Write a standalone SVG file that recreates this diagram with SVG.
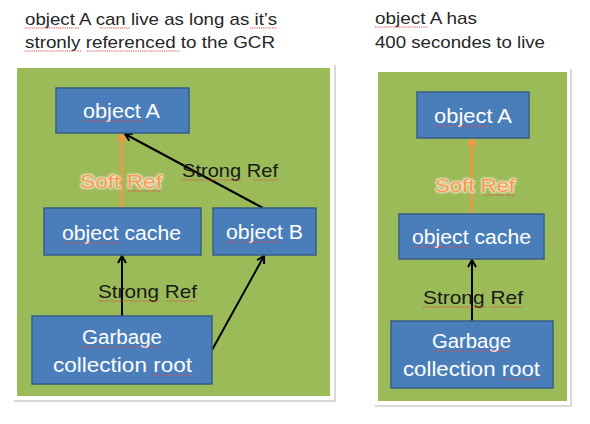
<svg xmlns="http://www.w3.org/2000/svg" width="590" height="424" viewBox="0 0 590 424">
<defs>
<style>
.t{font-family:"Liberation Sans",Arial,sans-serif;}
.title{font-size:17px;fill:#262626;}
.node rect{fill:#4A7EBB;stroke:#385D8A;stroke-width:1.5;}
.node text{font-size:20px;fill:#FFFFFF;text-anchor:middle;}
.lbl{font-size:19px;fill:#1a1a1a;text-anchor:middle;}
.soft{font-size:19px;fill:#F79646;text-anchor:middle;filter:url(#glow);}
.panel{fill:#FFFFFF;}
.shadow{fill:#D9D9D9;}
.green{fill:#9BBB59;}
.blk{stroke:#000;stroke-width:2;fill:none;}
.org{stroke:#F79646;stroke-width:2.5;fill:none;}
.sq{stroke:#E04848;stroke-width:1;stroke-dasharray:1.2 1;fill:none;}
</style>
<filter id="glow" x="-20%" y="-40%" width="140%" height="180%">
<feMorphology in="SourceAlpha" operator="dilate" radius="1.3" result="d"/>
<feGaussianBlur in="d" stdDeviation="1" result="b"/>
<feFlood flood-color="#FDE3CC"/>
<feComposite in2="b" operator="in" result="g"/>
<feMerge><feMergeNode in="g"/><feMergeNode in="SourceGraphic"/></feMerge>
</filter>
<marker id="ab" viewBox="0 0 10 10" refX="8.5" refY="5" markerWidth="10" markerHeight="10" orient="auto" markerUnits="userSpaceOnUse">
<path d="M1.5,1 L8.5,5 L1.5,9" fill="none" stroke="#000" stroke-width="2"/>
</marker>
<marker id="ao" viewBox="0 0 10 10" refX="8.5" refY="5" markerWidth="10" markerHeight="10" orient="auto" markerUnits="userSpaceOnUse">
<path d="M1.5,1 L8.5,5 L1.5,9" fill="none" stroke="#F79646" stroke-width="2.2"/>
</marker>
</defs>
<rect width="590" height="424" fill="#FFFFFF"/>

<g id="titles" class="t">
<text class="title" x="25" y="25" textLength="252" lengthAdjust="spacingAndGlyphs">object A can live as long as it’s</text>
<text class="title" x="25" y="48" textLength="250" lengthAdjust="spacingAndGlyphs">stronly referenced to the GCR</text>
<text class="title" x="375" y="24" textLength="102" lengthAdjust="spacingAndGlyphs">object A has</text>
<text class="title" x="375" y="48" textLength="170" lengthAdjust="spacingAndGlyphs">400 secondes to live</text>
</g>

<g id="panels">
<rect class="shadow" x="14" y="65" width="322" height="337"/>
<rect class="panel" x="13" y="64" width="321" height="336"/>
<rect class="green" x="17" y="68" width="313" height="328"/>
<rect class="shadow" x="375" y="69" width="197" height="338"/>
<rect class="panel" x="374" y="68" width="196" height="337"/>
<rect class="green" x="378" y="72" width="189" height="329"/>
</g>

<g id="connectors">
<line class="org" x1="122" y1="208" x2="122" y2="134" marker-end="url(#ao)"/>
<line class="blk" x1="263" y1="208" x2="125" y2="134" marker-end="url(#ab)"/>
<line class="blk" x1="122" y1="316" x2="122" y2="256" marker-end="url(#ab)"/>
<line class="blk" x1="212" y1="350" x2="264" y2="256" marker-end="url(#ab)"/>
<line class="org" x1="472" y1="214" x2="472" y2="139" marker-end="url(#ao)"/>
<line class="blk" x1="472" y1="321" x2="472" y2="260" marker-end="url(#ab)"/>
</g>

<g id="labels" class="t">
<text class="soft" x="121" y="188" textLength="82" lengthAdjust="spacingAndGlyphs">Soft Ref</text>
<text class="lbl" x="230" y="177" textLength="96" lengthAdjust="spacingAndGlyphs">Strong Ref</text>
<text class="lbl" x="147.5" y="298" textLength="99" lengthAdjust="spacingAndGlyphs">Strong Ref</text>
<text class="soft" x="475" y="192" textLength="80" lengthAdjust="spacingAndGlyphs">Soft Ref</text>
<text class="lbl" x="473" y="304" textLength="100" lengthAdjust="spacingAndGlyphs">Strong Ref</text>
</g>

<g id="left-objectA" class="node t">
<rect x="56" y="88" width="133" height="45"/>
<text x="121.5" y="118" textLength="77" lengthAdjust="spacingAndGlyphs">object A</text>
</g>
<g id="left-objectCache" class="node t">
<rect x="44" y="208" width="157" height="47"/>
<text x="121.5" y="240" textLength="119" lengthAdjust="spacingAndGlyphs">object cache</text>
</g>
<g id="left-objectB" class="node t">
<rect x="213" y="208" width="103" height="47"/>
<text x="264.5" y="239" textLength="77" lengthAdjust="spacingAndGlyphs">object B</text>
</g>
<g id="left-gcr" class="node t">
<rect x="32" y="316" width="180" height="68"/>
<text x="122" y="344" textLength="80" lengthAdjust="spacingAndGlyphs">Garbage</text>
<text x="122.5" y="372" textLength="139" lengthAdjust="spacingAndGlyphs">collection root</text>
</g>

<g id="right-objectA" class="node t">
<rect x="417" y="92" width="112" height="46"/>
<text x="473" y="123" textLength="78" lengthAdjust="spacingAndGlyphs">object A</text>
</g>
<g id="right-objectCache" class="node t">
<rect x="399" y="214" width="145" height="45"/>
<text x="471.5" y="244" textLength="119" lengthAdjust="spacingAndGlyphs">object cache</text>
</g>
<g id="right-gcr" class="node t">
<rect x="391" y="321" width="162" height="67"/>
<text x="471.5" y="348" textLength="79" lengthAdjust="spacingAndGlyphs">Garbage</text>
<text x="471.5" y="376" textLength="137" lengthAdjust="spacingAndGlyphs">collection root</text>
</g>

<g id="spellcheck">
<path class="sq" d="M25,28H80 M100,28H130 M250,28H277 M25,51H82 M87,51H180 M375,27H428"/>
<path class="sq" d="M83,121H143 M62,243H120 M226,242H283 M434,126H491 M412,247H469"/>
<path class="sq" d="M82,347H162 M152,375H192 M432,351H511 M500,379H540"/>
<path class="sq" d="M182,180H242 M253,180H278 M98,301H159 M167,301H197 M423,307H487 M490,307H523"/>
<path class="sq" d="M128,191H160 M483,195H515"/>
</g>
</svg>
